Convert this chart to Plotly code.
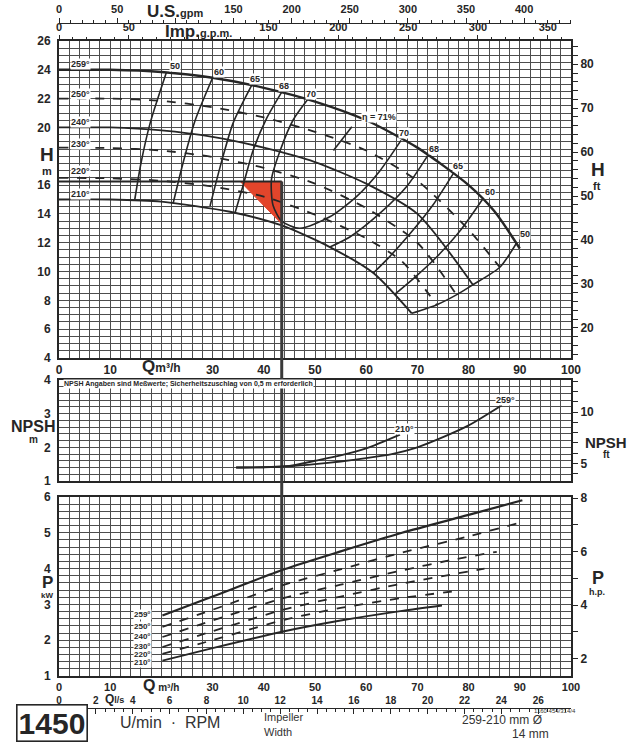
import plotly.graph_objects as go

# ---------------- data ----------------
# Q-H curves (Q in m3/h, H in m) per impeller diameter
Q_259 = [0, 10, 20, 30, 40, 50, 60, 70, 80, 85, 90]
H_259 = [24.0, 24.0, 23.85, 23.45, 22.75, 21.8, 20.5, 18.6, 16.0, 14.2, 11.6]
Q_250 = [0, 10, 20, 30, 40, 50, 60, 70, 80, 86.1]
H_250 = [22.0, 22.0, 21.85, 21.4, 20.7, 19.7, 18.4, 16.3, 12.9, 10.3]
Q_240 = [0, 10, 20, 30, 40, 50, 60, 70, 80.9]
H_240 = [20.0, 20.0, 19.8, 19.35, 18.6, 17.6, 16.1, 14.0, 9.05]
Q_230 = [0, 10, 20, 30, 40, 50, 60, 70, 77.7]
H_230 = [18.6, 18.57, 18.4, 17.95, 17.2, 16.1, 14.4, 12.0, 8.36]
Q_220 = [0, 10, 20, 30, 40, 50, 60, 67, 73.8]
H_220 = [16.5, 16.47, 16.3, 15.9, 15.2, 13.95, 12.3, 10.7, 7.67]
Q_210 = [0, 10, 20, 33.4, 43.5, 52.9, 61.4, 68.9]
H_210 = [15.0, 15.0, 14.85, 14.15, 13.2, 11.7, 9.9, 7.1]

# iso-efficiency lines (Q, H)
Q_eta50L = [14.8, 16.0, 17.8, 21.0]
H_eta50L = [15.0, 17.5, 20.3, 23.85]
Q_eta60L = [22.3, 24.2, 26.6, 30.0]
H_eta60L = [14.75, 17.5, 20.5, 23.45]
Q_eta65L = [29.5, 31.5, 34.0, 37.6]
H_eta65L = [14.55, 17.3, 20.3, 22.9]
Q_eta68L = [34.4, 35.9, 37.9, 40.5, 43.5]
H_eta68L = [14.1, 15.9, 18.4, 20.6, 22.45]
Q_eta70 = [48.6, 45.7, 43.2, 41.5, 41.8, 43.5, 47.0, 52.9, 58.1, 62.7, 66.8]
H_eta70 = [21.95, 20.5, 18.4, 16.4, 14.6, 13.5, 13.0, 13.8, 15.2, 17.0, 19.1]
Q_eta71 = [53.6, 57.2]
H_eta71 = [18.4, 20.05]
Q_eta68R = [72.1, 67.9, 62.7, 56.8, 52.9]
H_eta68R = [18.1, 15.9, 14.05, 12.4, 11.7]
Q_eta65R = [77.0, 73.0, 68.5, 64.5, 61.4]
H_eta65R = [16.8, 14.6, 12.6, 11.0, 9.9]
Q_eta60R = [82.9, 78.5, 74.0, 69.5, 65.5]
H_eta60R = [15.1, 12.9, 11.1, 9.6, 8.4]
Q_eta50R = [68.9, 73.8, 77.7, 80.9, 86.1, 89.4]
H_eta50R = [7.1, 7.7, 8.4, 9.1, 10.3, 12.0]

# NPSH curves (Q, NPSH m)
Q_npsh210 = [34.6, 40, 45, 50, 55, 60, 66.6]
N_npsh210 = [1.4, 1.41, 1.45, 1.6, 1.76, 1.97, 2.38]
Q_npsh259 = [34.6, 40, 45, 50, 55, 60, 65, 70, 75, 80, 86.5]
N_npsh259 = [1.4, 1.41, 1.44, 1.5, 1.58, 1.68, 1.8, 2.0, 2.3, 2.65, 3.25]

# Power curves (Q, P kW)
Q_P259 = [20.2, 30, 44, 55, 67, 80, 90.5]
P_P259 = [2.69, 3.22, 3.98, 4.48, 5.0, 5.5, 5.91]
Q_P250 = [20.2, 30, 44, 55, 67, 80, 89.4]
P_P250 = [2.37, 2.85, 3.55, 3.98, 4.45, 4.9, 5.26]
Q_P240 = [20.2, 30, 44, 55, 67, 77, 85.5]
P_P240 = [2.09, 2.55, 3.18, 3.55, 3.95, 4.25, 4.47]
Q_P230 = [20.2, 30, 44, 55, 67, 83.1]
P_P230 = [1.81, 2.25, 2.86, 3.22, 3.58, 4.0]
Q_P220 = [20.2, 30, 44, 55, 67, 78.4]
P_P220 = [1.62, 2.0, 2.57, 2.9, 3.18, 3.39]
Q_P210 = [20.2, 30, 44, 55, 67, 74.8]
P_P210 = [1.43, 1.78, 2.25, 2.55, 2.82, 2.97]

# duty point
OP_Q = [43.5]
OP_H = [16.25]
OP_H_LOW = [13.3]
OP_Q_LEFT = [35.4]
OP_P_END = [2.2]

# labels
DIAMETERS = ["259°", "250°", "240°", "230°", "220°", "210°"]
DIA_LABEL_H = [24.4, 22.3, 20.4, 18.85, 16.95, 15.35]
DIA_LABEL_P = [2.72, 2.38, 2.1, 1.83, 1.6, 1.38]
ETA_TEXT = ["50", "60", "65", "68", "70", "η = 71%", "70", "68", "65", "60", "50"]
ETA_Q = [22.6, 31.2, 38.2, 43.9, 49.3, 62.5, 67.3, 73.2, 78.0, 84.2, 91.0]
ETA_H = [24.3, 23.85, 23.35, 22.85, 22.3, 20.7, 19.65, 18.5, 17.3, 15.5, 12.6]

# unit conversions for secondary scales
M3H_TO_USGPM = 4.40287
M3H_TO_IMPGPM = 3.66615
M3H_TO_LS = 1 / 3.6
M_TO_FT = 1 / 0.3048
KW_TO_HP = 1 / 0.7457

INK = "#262626"
GRID = "#4d4d4d"
RED = "#e2452b"
FONT = "Liberation Sans"

XD = [59 / 630, 571 / 630]
DOM_H = [1 - 358 / 749, 1 - 41 / 749]
DOM_N = [1 - 481 / 749, 1 - 380 / 749]
DOM_P = [1 - 676 / 749, 1 - 497 / 749]

fig = go.Figure()


def line(x, y, xa, ya, width=1.8, dash="solid", color=INK, smooth=0.7):
    fig.add_trace(go.Scatter(
        x=x, y=y, xaxis=xa, yaxis=ya, mode="lines",
        line=dict(color=color, width=width, dash=dash, shape="spline", smoothing=smooth),
        hoverinfo="skip", showlegend=False))


# red duty-point triangle
fig.add_trace(go.Scatter(
    x=[OP_Q_LEFT[0], OP_Q[0], OP_Q[0], OP_Q_LEFT[0]],
    y=[OP_H[0], OP_H[0], OP_H_LOW[0], OP_H[0]],
    xaxis="x", yaxis="y", mode="lines", fill="toself", fillcolor=RED,
    line=dict(color=RED, width=1), hoverinfo="skip", showlegend=False))

# H curves
line(Q_259, H_259, "x", "y", 2.4)
line(Q_250, H_250, "x", "y", 1.8, "dash")
line(Q_240, H_240, "x", "y", 1.8)
line(Q_230, H_230, "x", "y", 1.8, "dash")
line(Q_220, H_220, "x", "y", 1.8, "dash")
line(Q_210, H_210, "x", "y", 1.9)

# efficiency lines
for qq, hh in [(Q_eta50L, H_eta50L), (Q_eta60L, H_eta60L), (Q_eta65L, H_eta65L),
               (Q_eta68L, H_eta68L), (Q_eta70, H_eta70), (Q_eta71, H_eta71),
               (Q_eta68R, H_eta68R), (Q_eta65R, H_eta65R), (Q_eta60R, H_eta60R),
               (Q_eta50R, H_eta50R)]:
    line(qq, hh, "x", "y", 1.6)

# duty-point head line and vertical line through all panels
line([0, OP_Q[0]], [OP_H[0], OP_H[0]], "x", "y", 2.2, smooth=0)
line([OP_Q[0], OP_Q[0]], [OP_H[0], 4], "x", "y", 3, color="#3a3a3a", smooth=0)
line([OP_Q[0], OP_Q[0]], [1, 4], "x2", "y3", 3, color="#3a3a3a", smooth=0)
line([OP_Q[0], OP_Q[0]], [6, OP_P_END[0]], "x3", "y5", 3, color="#3a3a3a", smooth=0)

# NPSH
line(Q_npsh210, N_npsh210, "x2", "y3", 1.9)
line(Q_npsh259, N_npsh259, "x2", "y3", 1.9)

# Power
line(Q_P259, P_P259, "x3", "y5", 2.2)
line(Q_P250, P_P250, "x3", "y5", 1.8, "dash")
line(Q_P240, P_P240, "x3", "y5", 1.8, "dash")
line(Q_P230, P_P230, "x3", "y5", 1.8, "dash")
line(Q_P220, P_P220, "x3", "y5", 1.8, "dash")
line(Q_P210, P_P210, "x3", "y5", 1.9)

# invisible traces so that every secondary scale is drawn
for xa, ya in [("x4", "y"), ("x5", "y"), ("x", "y2"), ("x2", "y4"), ("x6", "y5"), ("x3", "y6")]:
    fig.add_trace(go.Scatter(x=[None], y=[None], xaxis=xa, yaxis=ya, mode="markers",
                             hoverinfo="skip", showlegend=False))

tickfont = dict(family=FONT, size=12, color=INK, weight="bold")


def base_x(anchor, labels=True, alias=None, size=12):
    d = dict(domain=XD, range=[0, 100], anchor=anchor, tick0=0, dtick=10,
             showgrid=True, gridcolor=GRID, gridwidth=1,
             minor=dict(dtick=2, showgrid=True, gridcolor=GRID, gridwidth=1),
             showline=True, mirror=True, linecolor=INK, linewidth=1.8,
             ticks="", showticklabels=labels,
             tickfont=dict(family=FONT, size=size, color=INK, weight="bold"),
             zeroline=False, automargin=False, fixedrange=True)
    if alias:
        d["labelalias"] = alias
    return d


def base_y(anchor, dom, rng, dtick, minor, alias=None):
    d = dict(domain=dom, range=rng, anchor=anchor, tick0=0, dtick=dtick,
             showgrid=True, gridcolor=GRID, gridwidth=1,
             minor=dict(dtick=minor, showgrid=True, gridcolor=GRID, gridwidth=1),
             showline=True, mirror=True, linecolor=INK, linewidth=1.8,
             ticks="", tickfont=tickfont, zeroline=False, automargin=False,
             ticklabelstandoff=4, fixedrange=True)
    if alias:
        d["labelalias"] = alias
    return d


def right_y(over, anchor, rng, dtick, minor):
    return dict(overlaying=over, anchor=anchor, side="right", range=rng, tick0=0,
                dtick=dtick, ticks="outside", ticklen=6, tickcolor=INK, tickwidth=1.2,
                minor=dict(dtick=minor, ticks="outside", ticklen=6, tickcolor=INK,
                           tickwidth=1.2, showgrid=False),
                showgrid=False, showline=False, zeroline=False, tickfont=tickfont,
                automargin=False, fixedrange=True)


def top_x(over, anchor, rng, dtick, minor, position=None, alias=None, showline=False,
          ticks="outside", size=11):
    d = dict(overlaying=over, anchor=anchor, side="top", range=rng, tick0=0,
             dtick=dtick, ticks=ticks, ticklen=5, tickcolor=INK, tickwidth=1.2,
             minor=dict(dtick=minor, ticks=ticks, ticklen=3, tickcolor=INK,
                        tickwidth=1, showgrid=False),
             showgrid=False, showline=showline, linecolor=INK, linewidth=1.3,
             zeroline=False, tickfont=dict(family=FONT, size=size, color=INK, weight="bold"),
             automargin=False, fixedrange=True)
    if position is not None:
        d["position"] = position
    if alias:
        d["labelalias"] = alias
    return d


fig.update_layout(
    width=630, height=749, template="none",
    margin=dict(l=0, r=0, t=0, b=0),
    paper_bgcolor="white", plot_bgcolor="white", showlegend=False,
    xaxis=base_x("y", True, {"20": " "}),
    xaxis2=base_x("y3", False),
    xaxis3=base_x("y5", True, {"20": " "}, size=11),
    xaxis4=top_x("x", "y", [0, 100 * M3H_TO_IMPGPM], 50, 10, alias={"100": " "}),
    xaxis5=top_x("x", "free", [0, 100 * M3H_TO_USGPM], 50, 10,
                 position=1 - 23 / 749, alias={"100": " "}, showline=True),
    xaxis6=top_x("x3", "free", [0, 100 * M3H_TO_LS], 2, 0.5,
                 position=1 - 708 / 749, showline=True, ticks="inside", size=10),
    yaxis=base_y("x", DOM_H, [4, 26], 2, 0.5, {"18": " "}),
    yaxis2=right_y("y", "x", [4 * M_TO_FT, 26 * M_TO_FT], 10, 2),
    yaxis3=base_y("x2", DOM_N, [1, 4], 1, 0.2),
    yaxis4=right_y("y3", "x2", [1 * M_TO_FT, 4 * M_TO_FT], 5, 1),
    yaxis5=base_y("x3", DOM_P, [1, 6], 1, 0.2),
    yaxis6=right_y("y5", "x3", [1 * KW_TO_HP, 6 * KW_TO_HP], 2, 1),
)

# gap segments of the duty-point vertical line (between panels)
for y0, y1 in [(DOM_N[1], DOM_H[0]), (DOM_P[1], DOM_N[0])]:
    fig.add_shape(type="line", xref="x", yref="paper", x0=OP_Q[0], x1=OP_Q[0],
                  y0=y0, y1=y1, line=dict(color="#3a3a3a", width=3))

ann = []


def A(text, x, y, xref="paper", yref="paper", size=11, bold=True, xanchor="center",
      yanchor="middle", bg=None, color=INK, **kw):
    d = dict(text=text, x=x, y=y, xref=xref, yref=yref, showarrow=False,
             xanchor=xanchor, yanchor=yanchor,
             font=dict(family=FONT, size=size, color=color, weight="bold" if bold else "normal"))
    if bg:
        d["bgcolor"] = bg
        d["borderpad"] = 0
    d.update(kw)
    ann.append(d)


def py(px):
    return 1 - px / 749


# axis titles
A("H", 47 / 630, 18.15, yref="y", size=19)
A("m", 47 / 630, 16.95, yref="y", size=11)
A("H", 589 / 630, 17.05, yref="y", size=19, xanchor="left")
A("ft", 591 / 630, 15.95, yref="y", size=11, xanchor="left")
A("<span style='font-size:17px'>Q</span>m³/h", 20, py(366), xref="x", size=12)
A("<span style='font-size:16px'>Q</span> m³/h", 20, py(685), xref="x3", size=10)
A("<span style='font-size:12px'>Q</span>l/s", 3, py(699), xref="x6", size=9)
A("<span style='font-size:17px'>U.S.</span><span style='font-size:11px'>gpm</span>",
  100, py(12), xref="x5", size=11)
A("<span style='font-size:17px'>Imp.</span><span style='font-size:11px'>g.p.m.</span>",
  100, py(31), xref="x4", size=11)
A("NPSH", 33 / 630, 2.62, yref="y3", size=16)
A("m", 33 / 630, 2.24, yref="y3", size=10)
A("NPSH", 583 / 630, 2.15, yref="y3", size=15, xanchor="left")
A("ft", 601 / 630, 1.8, yref="y3", size=10, xanchor="left")
A("P", 47 / 630, 3.6, yref="y5", size=17)
A("kW", 47 / 630, 3.26, yref="y5", size=8)
A("P", 590 / 630, 3.74, yref="y5", size=18, xanchor="left")
A("h.p.", 587 / 630, 3.36, yref="y5", size=9, xanchor="left")

# NPSH note
A("NPSH Angaben sind Meßwerte; Sicherheitszuschlag von 0,5 m erforderlich",
  0.8, 3.88, xref="x2", yref="y3", size=7, xanchor="left", bg="white")

# curve labels
for t, h in zip(DIAMETERS, DIA_LABEL_H):
    A(t, 4.2, h, xref="x", yref="y", size=9, bg="white")
for t, p in zip(DIAMETERS, DIA_LABEL_P):
    A(t, 16.4, p, xref="x3", yref="y5", size=8, bg="white")
A("210°", 67.5, 2.55, xref="x2", yref="y3", size=9, bg="white")
A("259°", 87.3, 3.42, xref="x2", yref="y3", size=9, bg="white")
for t, q, h in zip(ETA_TEXT, ETA_Q, ETA_H):
    A(t, q, h, xref="x", yref="y", size=9, bg="white")

# footer
A("1450", 52 / 630, py(723), size=30, bordercolor=INK, borderwidth=1.6, borderpad=1,
  bgcolor="white")
A("U/min  ·  RPM", 118 / 630, py(722), size=16, bold=False, xanchor="left", color="#333")
A("Impeller", 262 / 630, py(717), size=11, bold=False, xanchor="left", color="#333")
A("Width", 262 / 630, py(732), size=11, bold=False, xanchor="left", color="#333")
A("259-210 mm Ø", 460 / 630, py(720), size=12, bold=False, xanchor="left", color="#333")
A("14 mm", 510 / 630, py(734), size=12, bold=False, xanchor="left", color="#333")
A("1160 454/314/4", 578 / 630, py(711), size=6, bold=False, xanchor="right", color="#333")

fig.update_layout(annotations=ann)

fig.write_html("out.html", config={"displayModeBar": False},
               post_script="document.body.style.margin='0';")
